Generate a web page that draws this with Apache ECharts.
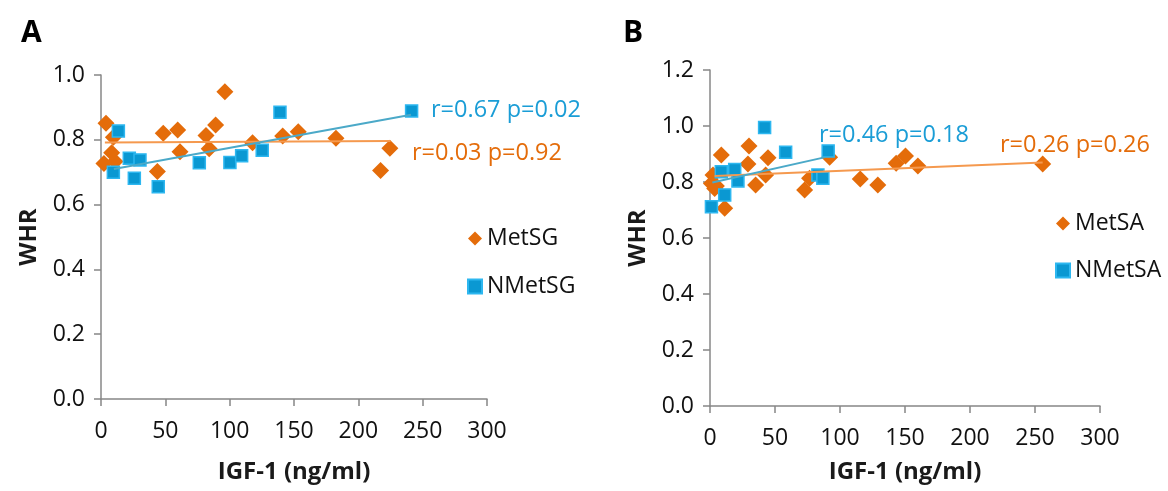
<!DOCTYPE html>
<html>
<head>
<meta charset="utf-8">
<script src="https://cdn.jsdelivr.net/npm/echarts@6/dist/echarts.min.js"></script>
<style>
html,body{margin:0;padding:0;background:#fff;}
#chart{width:1168px;height:491px;}
</style>
</head>
<body>
<div id="chart"></div>
<script>
// ---- Data ----
// Panel A
const metSG_x = [3.9, 9.6, 8.3, 2.3, 10.9, 48.4, 59.6, 61.4, 43.8, 96.3, 81.6, 89.1, 84.1, 117.8, 141.2, 153.3, 182.6, 224.5, 217.3];
const metSG_y = [0.851, 0.808, 0.760, 0.727, 0.733, 0.820, 0.830, 0.763, 0.702, 0.948, 0.813, 0.846, 0.772, 0.791, 0.812, 0.825, 0.805, 0.774, 0.705];
const nMetSG_x = [13.5, 22.0, 30.3, 9.6, 25.9, 44.5, 76.4, 100.2, 109.3, 125.3, 139.1, 241.4];
const nMetSG_y = [0.827, 0.743, 0.738, 0.700, 0.681, 0.655, 0.729, 0.730, 0.751, 0.768, 0.885, 0.889];
const metSG_trend_x = [3, 225];
const metSG_trend_y = [0.792, 0.796];
const nMetSG_trend_x = [10, 241];
const nMetSG_trend_y = [0.710, 0.877];
// Panel B
const metSA_x = [8.7, 30.0, 29.2, 44.6, 2.3, 1.1, 3.6, 4.9, 11.3, 35.1, 42.8, 72.8, 76.6, 92.0, 115.6, 129.1, 143.2, 150.4, 159.9, 255.9];
const metSA_y = [0.896, 0.929, 0.864, 0.887, 0.825, 0.795, 0.777, 0.786, 0.706, 0.789, 0.825, 0.771, 0.813, 0.888, 0.811, 0.789, 0.867, 0.893, 0.857, 0.864];
const nMetSA_x = [42.0, 58.2, 90.9, 8.7, 19.0, 21.5, 11.3, 1.1, 83.0, 86.8];
const nMetSA_y = [0.995, 0.906, 0.911, 0.837, 0.845, 0.804, 0.754, 0.712, 0.825, 0.813];
const metSA_trend_x = [3.6, 255.9];
const metSA_trend_y = [0.821, 0.870];
const nMetSA_trend_x = [1.8, 88];
const nMetSA_trend_y = [0.798, 0.888];

const panelLabels = ['A', 'B'];
const annotations = ['r=0.67 p=0.02', 'r=0.03 p=0.92', 'r=0.46 p=0.18', 'r=0.26 p=0.26'];
const xAxisTitle = 'IGF-1 (ng/ml)';
const yAxisTitle = 'WHR';

const zip = (xs, ys) => xs.map((x, i) => [x, ys[i]]);

const FONT = '"Open Sans", "Noto Sans", sans-serif';
const ORANGE = '#E46C0A';
const BLUE_FILL = '#0A98D2';
const BLUE_BORDER = '#2DB7F0';
const ORANGE_LINE = '#F5994E';
const BLUE_LINE = '#4BA9C8';
const BLUE_TEXT = '#1A9DD6';
const AX = '#878787';

function xAxisCfg(gridIndex, gap) {
  return {
    gridIndex, type: 'value', min: 0, max: 300, interval: 50,
    name: xAxisTitle, nameLocation: 'middle', nameGap: gap,
    nameTextStyle: {fontFamily: FONT, fontSize: 24, fontWeight: 'bold', color: '#1a1a1a'},
    axisLine: {show: true, onZero: false, lineStyle: {color: AX, width: 1.5}},
    axisTick: {show: true, inside: false, length: 7, lineStyle: {color: AX, width: 1.5}},
    axisLabel: {fontFamily: FONT, fontSize: 23, color: '#111', margin: 21},
    splitLine: {show: false}
  };
}
function yAxisCfg(gridIndex, max, gap) {
  return {
    gridIndex, type: 'value', min: 0, max: max, interval: 0.2,
    name: yAxisTitle, nameLocation: 'middle', nameGap: gap, nameRotate: 90,
    nameTextStyle: {fontFamily: FONT, fontSize: 24, fontWeight: 'bold', color: '#1a1a1a'},
    axisLine: {show: true, lineStyle: {color: AX, width: 1.5}},
    axisTick: {show: true, inside: false, length: 7, lineStyle: {color: AX, width: 1.5}},
    axisLabel: {fontFamily: FONT, fontSize: 23, color: '#111', margin: 16,
      formatter: v => v.toFixed(1)},
    splitLine: {show: false}
  };
}
function diamondSeries(name, xi, data) {
  return {name, type: 'scatter', xAxisIndex: xi, yAxisIndex: xi, data,
    symbol: 'diamond', symbolSize: [17, 17], z: 2,
    itemStyle: {color: ORANGE, opacity: 1}};
}
function squareSeries(name, xi, data) {
  return {name, type: 'scatter', xAxisIndex: xi, yAxisIndex: xi, data,
    symbol: 'rect', symbolSize: [12, 12], z: 3,
    itemStyle: {color: BLUE_FILL, borderColor: BLUE_BORDER, borderWidth: 1.5, opacity: 1}};
}
function lineSeries(xi, data, color) {
  return {type: 'line', xAxisIndex: xi, yAxisIndex: xi, data, symbol: 'none', z: 4,
    silent: true, lineStyle: {color, width: 2}, legendHoverLink: false};
}
function legendCfg(left, top, names, gap) {
  return {
    left, top, orient: 'vertical', itemGap: gap, itemWidth: 14, itemHeight: 14,
    textStyle: {fontFamily: FONT, fontSize: 23, color: '#111'},
    data: [{name: names[0], icon: 'diamond'},
           {name: names[1], icon: 'rect'}],
    selectedMode: false
  };
}
function txt(x, y, text, font, fill) {
  return {type: 'text', x, y, style: {text, font, fill, verticalAlign: 'middle', textVerticalAlign: 'middle'}};
}

const chart = echarts.init(document.getElementById('chart'), null, {renderer: 'canvas'});
chart.setOption({
  animation: false,
  backgroundColor: '#fff',
  grid: [
    {left: 101, top: 75, width: 386, height: 324},
    {left: 710, top: 70, width: 390, height: 336}
  ],
  xAxis: [xAxisCfg(0, 61), xAxisCfg(1, 54)],
  yAxis: [yAxisCfg(0, 1.0, 60), yAxisCfg(1, 1.2, 60)],
  legend: [
    legendCfg(462, 222, ['MetSG', 'NMetSG'], 25),
    legendCfg(1050, 207, ['MetSA', 'NMetSA'], 24)
  ],
  series: [
    diamondSeries('MetSG', 0, zip(metSG_x, metSG_y)),
    squareSeries('NMetSG', 0, zip(nMetSG_x, nMetSG_y)),
    lineSeries(0, zip(metSG_trend_x, metSG_trend_y), ORANGE_LINE),
    lineSeries(0, zip(nMetSG_trend_x, nMetSG_trend_y), BLUE_LINE),
    diamondSeries('MetSA', 1, zip(metSA_x, metSA_y)),
    squareSeries('NMetSA', 1, zip(nMetSA_x, nMetSA_y)),
    lineSeries(1, zip(metSA_trend_x, metSA_trend_y), ORANGE_LINE),
    lineSeries(1, zip(nMetSA_trend_x, nMetSA_trend_y), BLUE_LINE)
  ],
  graphic: [
    txt(21, 33, panelLabels[0], 'bold 30px ' + FONT, '#000'),
    txt(623, 33, panelLabels[1], 'bold 30px ' + FONT, '#000'),
    txt(431, 110, annotations[0], '23.5px ' + FONT, BLUE_TEXT),
    txt(412, 153, annotations[1], '23.5px ' + FONT, ORANGE),
    txt(819, 135, annotations[2], '23.5px ' + FONT, BLUE_TEXT),
    txt(1000, 145, annotations[3], '23.5px ' + FONT, ORANGE)
  ]
});
</script>
</body>
</html>
